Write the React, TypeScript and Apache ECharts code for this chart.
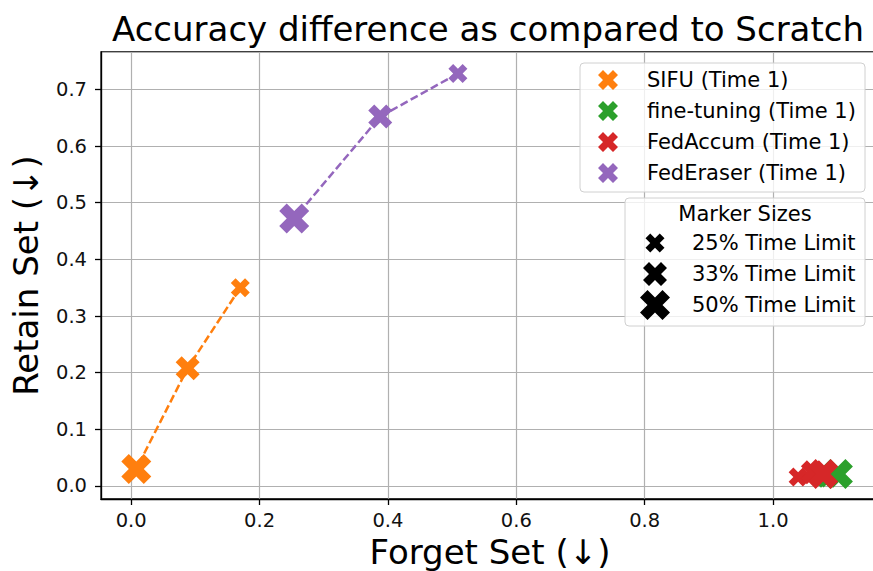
import React, { useEffect, useRef } from "react";
import * as echarts from "echarts";

const TITLE = "Accuracy difference as compared to Scratch";
const X_NAME = "Forget Set (↓)";
const Y_NAME = "Retain Set (↓)";

const sizeLabels = ["25% Time Limit", "33% Time Limit", "50% Time Limit"];
const markerPx = [19, 24, 30];

const seriesNames = ["SIFU (Time 1)", "fine-tuning (Time 1)", "FedAccum (Time 1)", "FedEraser (Time 1)"];
const seriesColors = ["#ff7f0e", "#2ca02c", "#d62728", "#9467bd"];

// values ordered 25%, 33%, 50% time limit
const sifuX = [0.17, 0.088, 0.008];
const sifuY = [0.35, 0.208, 0.03];
const fineX = [1.086, 1.084, 1.101];
const fineY = [0.014, 0.018, 0.021];
const accumX = [1.039, 1.062, 1.078];
const accumY = [0.016, 0.024, 0.021];
const eraserX = [0.509, 0.388, 0.254];
const eraserY = [0.728, 0.652, 0.472];

const X_PATH = "M-2.5,-5L0,-2.5L2.5,-5L5,-2.5L2.5,0L5,2.5L2.5,5L0,2.5L-2.5,5L-5,2.5L-2.5,0L-5,-2.5Z";

export default function App() {
  const ref = useRef<HTMLDivElement>(null);
  useEffect(() => {
    if (!ref.current) return;
    try {
      echarts.graphic.registerShape("xmark", echarts.graphic.extendPath(X_PATH, {}));
    } catch (e) {}
    const chart = echarts.init(ref.current, undefined, { renderer: "svg" });
    const xs = [sifuX, fineX, accumX, eraserX];
    const ys = [sifuY, fineY, accumY, eraserY];
    const series = seriesNames.map((name, i) => ({
      name,
      type: "line",
      data: xs[i].map((x, j) => ({ value: [x, ys[i][j]], symbolSize: markerPx[j] })),
      symbol: "path://" + X_PATH,
      itemStyle: { color: seriesColors[i], opacity: 1 },
      lineStyle: { color: seriesColors[i], width: 2.5, type: [8, 3.5] },
      showSymbol: true,
      emphasis: { disabled: true },
      z: 2 + i,
    }));

    const font = "DejaVu Sans";
    const graphics: any[] = [
      {
        type: "text",
        x: 488,
        y: 29,
        style: { text: TITLE, font: `34px "${font}"`, fill: "#000", textAlign: "center", textVerticalAlign: "middle" },
      },
      {
        type: "rect",
        shape: { x: 580, y: 63, width: 285, height: 129, r: 4 },
        style: { fill: "rgba(255,255,255,0.8)", stroke: "#d0d0d0", lineWidth: 1 },
        z: 10,
      },
      {
        type: "rect",
        shape: { x: 625, y: 198, width: 240, height: 128, r: 4 },
        style: { fill: "rgba(255,255,255,0.8)", stroke: "#d0d0d0", lineWidth: 1 },
        z: 10,
      },
      {
        type: "text",
        x: 745,
        y: 214,
        style: { text: "Marker Sizes", font: `21px "${font}"`, fill: "#000", textAlign: "center", textVerticalAlign: "middle" },
        z: 11,
      },
    ];
    const rowY = [80, 111, 142, 173];
    seriesNames.forEach((n, i) => {
      graphics.push({
        type: "xmark",
        x: 608,
        y: rowY[i],
        scaleX: 2.0,
        scaleY: 2.0,
        style: { fill: seriesColors[i] },
        z: 11,
      });
      graphics.push({
        type: "text",
        x: 647,
        y: rowY[i],
        style: { text: n, font: `21px "${font}"`, fill: "#000", textAlign: "left", textVerticalAlign: "middle" },
        z: 11,
      });
    });
    const sizeRowY = [243, 274, 305];
    sizeLabels.forEach((t, j) => {
      graphics.push({
        type: "xmark",
        x: 655,
        y: sizeRowY[j],
        scaleX: markerPx[j] / 10,
        scaleY: markerPx[j] / 10,
        style: { fill: "#000" },
        z: 11,
      });
      graphics.push({
        type: "text",
        x: 692,
        y: sizeRowY[j],
        style: { text: t, font: `21px "${font}"`, fill: "#000", textAlign: "left", textVerticalAlign: "middle" },
        z: 11,
      });
    });

    chart.setOption({
      animation: false,
      backgroundColor: "#fff",
      textStyle: { fontFamily: font },
      grid: {
        left: 101,
        top: 52,
        width: 778,
        height: 447,
        outerBoundsMode: "none",
        containLabel: false,
        show: true,
        borderColor: "#000",
        borderWidth: 1.3,
        backgroundColor: "transparent",
      },
      xAxis: {
        type: "value",
        min: -0.047,
        max: 1.165,
        splitNumber: 6,
        minInterval: 0.2,
        maxInterval: 0.2,
        name: X_NAME,
        nameLocation: "middle",
        nameGap: 35,
        nameTextStyle: { fontSize: 34, color: "#000", fontFamily: font },
        axisLine: { show: true, onZero: false, lineStyle: { color: "#000", width: 1.3 } },
        axisTick: { show: true, length: 6, lineStyle: { color: "#000", width: 1.3 } },
        axisLabel: { fontSize: 19.5, color: "#111", margin: 11, showMinLabel: false, showMaxLabel: false, formatter: (v: number) => v.toFixed(1) },
        splitLine: { show: true, lineStyle: { color: "#b0b0b0", width: 1.2 } },
      },
      yAxis: {
        type: "value",
        min: -0.023,
        max: 0.766,
        splitNumber: 8,
        minInterval: 0.1,
        maxInterval: 0.1,
        name: Y_NAME,
        nameLocation: "middle",
        nameRotate: 90,
        nameGap: 58,
        nameTextStyle: { fontSize: 34, color: "#000", fontFamily: font },
        axisLine: { show: true, onZero: false, lineStyle: { color: "#000", width: 1.3 } },
        axisTick: { show: true, length: 6, lineStyle: { color: "#000", width: 1.3 } },
        axisLabel: { fontSize: 19.5, color: "#111", margin: 14, showMinLabel: false, showMaxLabel: false, formatter: (v: number) => v.toFixed(1) },
        splitLine: { show: true, lineStyle: { color: "#b0b0b0", width: 1.2 } },
      },
      series,
      graphic: graphics,
    });
    return () => chart.dispose();
  }, []);
  return <div ref={ref} style={{ position: "fixed", left: 0, top: 0, width: 873, height: 571 }} />;
}
